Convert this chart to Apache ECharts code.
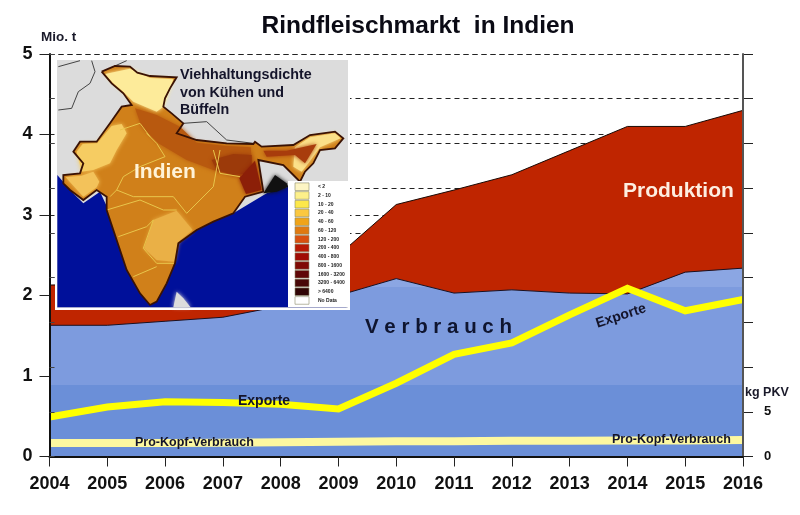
<!DOCTYPE html>
<html>
<head>
<meta charset="utf-8">
<style>
  html, body { margin: 0; padding: 0; background: #fff; }
  #chart { width: 800px; height: 515px; filter: blur(0.4px); }
</style>
<script src="https://cdn.jsdelivr.net/npm/echarts@6/dist/echarts.min.js"></script>
</head>
<body>
<div id="chart"></div>
<script>
const years = ['2004', '2005', '2006', '2007', '2008', '2009', '2010', '2011', '2012', '2013', '2014', '2015', '2016'];
const produktion = [2.13, 2.14, 2.2, 2.28, 2.38, 2.5, 3.13, 3.31, 3.5, 3.8, 4.1, 4.1, 4.3];
const verbrauch = [1.63, 1.63, 1.68, 1.73, 1.87, 2.0, 2.21, 2.03, 2.07, 2.03, 2.02, 2.29, 2.34];
const exporte = [0.49, 0.615, 0.68, 0.67, 0.65, 0.59, 0.91, 1.27, 1.41, 1.76, 2.09, 1.81, 1.95];
const proKopf = [1.5, 1.5, 1.5, 1.55, 1.6, 1.65, 1.7, 1.7, 1.75, 1.75, 1.8, 1.8, 1.85];

const legendLabels = ['< 2', '2 - 10', '10 - 20', '20 - 40', '40 - 60', '60 - 120', '120 - 200', '200 - 400',
  '400 - 800', '800 - 1600', '1600 - 3200', '3200 - 6400', '> 6400', 'No Data'];
const legendColors = ['#fdf5c4', '#fdf08a', '#fde84a', '#fbc840', '#f0a418', '#e07a10', '#d9500f', '#b81a05',
  '#a00c05', '#800a05', '#600808', '#480808', '#300505', '#ffffff'];

const fontName = '"Liberation Sans", Arial, sans-serif';

// Baender im Verbrauch-Bereich, Grenzen in Mio. t
const bandLow = 0.885;
const bandHigh = 2.1;
const vMax = Math.max(...verbrauch);
const verbrauchFill = new echarts.graphic.LinearGradient(0, 0, 0, 1, [
  { offset: 0, color: '#8ba6e3' },
  { offset: 1 - bandHigh / vMax, color: '#8ba6e3' },
  { offset: 1 - bandHigh / vMax, color: '#7d9bde' },
  { offset: 1 - bandLow / vMax, color: '#7d9bde' },
  { offset: 1 - bandLow / vMax, color: '#6b8fd8' },
  { offset: 1, color: '#6b8fd8' },
]);

const txt = (text, x, y, size, fill, extra) => ({
  type: 'text',
  z: 60,
  x, y,
  style: Object.assign({ text, fill, font: `bold ${size}px ${fontName}`, textVerticalAlign: 'middle' }, extra),
});
const poly = (points, fill, extra) => ({
  type: 'polygon',
  z: 52,
  shape: { points: points.map((p) => [p[0] / 3, p[1] / 3]) },
  style: Object.assign({ fill, shadowColor: fill, shadowBlur: 4 }, extra),
});
const border = (points, stroke, lineWidth) => ({
  type: 'polyline',
  z: 54,
  shape: { points: points.map((p) => [p[0] / 3, p[1] / 3]) },
  style: { stroke, lineWidth, fill: 'none' },
});

const indiaOutline = [[305, 215], [345, 198], [390, 200], [412, 218], [450, 228], [530, 232], [510, 265], [495, 295],
  [490, 320], [515, 340], [550, 370], [530, 400], [590, 420], [680, 430], [760, 432], [765, 425], [785, 440], [880, 435],
  [930, 405], [1005, 395], [1030, 415], [1005, 445], [960, 450], [940, 490], [915, 515], [900, 545], [880, 525],
  [850, 495], [775, 480], [790, 575], [735, 590], [700, 640], [640, 665], [590, 690], [535, 730], [525, 790], [500, 850],
  [470, 905], [450, 915], [420, 880], [380, 810], [350, 720], [320, 630], [320, 590], [290, 570], [250, 600], [210, 570],
  [190, 550], [190, 525], [240, 520], [250, 490], [220, 455], [240, 425], [290, 425], [330, 370], [365, 320], [395, 315],
  [370, 280], [335, 250], [305, 215]];

const mapElements = [
  { type: 'rect', z: 50, shape: { x: 56, y: 59, width: 293, height: 250 }, style: { fill: '#dcdcdc', stroke: '#fff', lineWidth: 2 } },
  poly([[172, 525], [215, 575], [250, 610], [300, 575], [330, 640], [700, 640], [800, 580], [865, 560], [1040, 560], [1040, 922], [172, 922]], '#00109a', { shadowBlur: 0 }),
  poly([[520, 922], [530, 875], [550, 895], [572, 922]], '#dcdcdc'),
  poly([[790, 580], [825, 525], [860, 550], [865, 560], [830, 575]], '#111'),
  border([[175, 200], [240, 182]], '#444', 1),
  border([[275, 182], [285, 215], [270, 250], [235, 275], [215, 325], [175, 330]], '#444', 1),
  border([[380, 182], [340, 200]], '#444', 1),
  border([[550, 370], [620, 365], [680, 420], [760, 430]], '#444', 1),
  poly(indiaOutline, '#d0801a', { shadowBlur: 0 }),
  // helle Bereiche im Norden und Westen
  poly([[315, 222], [390, 206], [450, 234], [520, 238], [490, 320], [470, 335], [400, 305], [370, 275], [340, 250]], '#fdeb9a'),
  poly([[230, 455], [248, 432], [292, 430], [335, 378], [365, 372], [380, 400], [350, 450], [330, 490], [280, 510], [245, 515]], '#f6cc62'),
  poly([[197, 532], [245, 527], [280, 515], [298, 545], [290, 562], [250, 590]], '#f3c25a'),
  poly([[885, 442], [930, 412], [1005, 400], [1022, 415], [960, 442], [925, 490], [905, 515], [880, 500]], '#fbe089'),
  poly([[790, 452], [860, 452], [950, 432], [915, 490], [885, 465], [800, 470]], '#a83c0c'),
  // Dichtezentren in der Gangesebene und Bengalen
  poly([[405, 325], [470, 345], [540, 380], [590, 428], [680, 438], [752, 442], [755, 480], [720, 530], [640, 510], [560, 480], [475, 430], [425, 380]], '#b8590f'),
  poly([[635, 480], [700, 462], [755, 465], [755, 520], [700, 525], [650, 510]], '#9c3a0a'),
  poly([[718, 535], [765, 482], [785, 570], [738, 582]], '#8c1f08'),
  // Dekkan
  poly([[460, 660], [530, 632], [578, 690], [535, 725], [522, 785], [470, 780], [432, 745]], '#eab046'),
  // Bundesstaatengrenzen
  border([[330, 590], [350, 570], [370, 530], [420, 500], [495, 470], [470, 430], [440, 400]], '#e8c64c', 1),
  border([[350, 570], [400, 590], [520, 590], [560, 640], [640, 560], [660, 450]], '#e8c64c', 1),
  border([[320, 630], [420, 600], [490, 630], [530, 630]], '#e8c64c', 1),
  border([[355, 710], [440, 680], [460, 660], [430, 745], [470, 790], [525, 790]], '#e8c64c', 1),
  border([[400, 830], [470, 800]], '#e8c64c', 1),
  border([[360, 390], [420, 370], [450, 410]], '#e8c64c', 1),
  border([[640, 450], [660, 520], [720, 530]], '#e8c64c', 1),
  border(indiaOutline, '#3a1204', 1.8),
  // Legende
  { type: 'rect', z: 55, shape: { x: 288, y: 181, width: 60, height: 126 }, style: { fill: '#fff' } },
];

legendLabels.forEach((label, i) => {
  const y = 186.7 + i * 8.75;
  mapElements.push({
    type: 'rect', z: 56,
    shape: { x: 295, y: y - 3.8, width: 14, height: 7.6 },
    style: { fill: legendColors[i], stroke: '#8a8a6a', lineWidth: 0.6 },
  });
  mapElements.push(txt(label, 318, y, 5, '#222'));
});

const labels = [
  txt('Rindfleischmarkt  in Indien', 418, 26, 24.5, '#0a0a14', { textAlign: 'center' }),
  txt('Mio. t', 41, 37, 13.5, '#1a1a2a'),
  txt('Viehhaltungsdichte', 180, 75, 14.3, '#14142a'),
  txt('von Kühen und', 180, 93, 14.3, '#14142a'),
  txt('Büffeln', 180, 110, 14.3, '#14142a'),
  txt('Indien', 134, 172, 21, '#fff3d8'),
  txt('Produktion', 623, 191, 21, '#fdeee0'),
  txt('V e r b r a u c h', 365, 327, 20.5, '#0f1530'),
  txt('Exporte', 238, 401, 14, '#14142a'),
  Object.assign(txt('Exporte', 621, 316, 14, '#14142a', { textAlign: 'center' }), { rotation: 18 * Math.PI / 180 }),
  txt('Pro-Kopf-Verbrauch', 135, 443, 12.5, '#14142a'),
  txt('Pro-Kopf-Verbrauch', 612, 440, 12.5, '#14142a'),
  txt('kg PKV', 745, 393, 12.5, '#1a1a2a'),
];

const chart = echarts.init(document.getElementById('chart'), null, { renderer: 'canvas' });

chart.setOption({
  animation: false,
  backgroundColor: '#fff',
  grid: { left: 49.5, right: 57, top: 54, height: 402.5 },
  xAxis: {
    type: 'category',
    boundaryGap: false,
    data: years,
    axisLine: { lineStyle: { color: '#111', width: 2 } },
    axisTick: { alignWithLabel: true, length: 10, lineStyle: { color: '#222', width: 1 } },
    axisLabel: { interval: 0, margin: 19, color: '#111', fontFamily: fontName, fontWeight: 'bold', fontSize: 18 },
    z: 5,
  },
  yAxis: [
    {
      type: 'value', min: 0, max: 5, interval: 1,
      axisLine: { show: false },
      axisTick: { show: true, length: 10, lineStyle: { color: '#222' } },
      axisLabel: { margin: 17, color: '#111', fontFamily: fontName, fontWeight: 'bold', fontSize: 18 },
      splitLine: { show: true, lineStyle: { color: '#222', type: [5, 4], width: 1 } },
      z: 0,
    },
    {
      type: 'value', min: 0, max: 45, interval: 5, position: 'right',
      axisLine: { show: false },
      axisTick: { show: true, length: 10, lineStyle: { color: '#222' } },
      axisLabel: {
        margin: 21, color: '#111', fontFamily: fontName, fontWeight: 'bold', fontSize: 13,
        formatter: (v) => (v <= 5 ? String(v) : ''),
      },
      splitLine: { show: true, lineStyle: { color: '#222', type: [5, 4], width: 1 } },
      z: 0,
    },
    {
      // Achsenlinie links und kleine Innenstriche, ueber den Flaechen
      type: 'value', min: 0, max: 45, interval: 5, position: 'left',
      axisLine: { show: true, lineStyle: { color: '#111', width: 2 } },
      axisTick: { show: true, inside: true, length: 5, lineStyle: { color: '#444' } },
      axisLabel: { show: false },
      splitLine: { show: false },
      z: 5,
    },
    {
      // Achsenlinie rechts, ueber den Flaechen
      type: 'value', min: 0, max: 45, interval: 5, position: 'right',
      axisLine: { show: true, lineStyle: { color: '#555', width: 2 } },
      axisTick: { show: false },
      axisLabel: { show: false },
      splitLine: { show: false },
      z: 5,
    },
  ],
  series: [
    {
      name: 'Produktion', type: 'line', data: produktion, symbol: 'none', z: 2,
      lineStyle: { color: '#1a0a05', width: 1 },
      areaStyle: { color: '#bf2500', opacity: 1 },
    },
    {
      name: 'Verbrauch', type: 'line', data: verbrauch, symbol: 'none', z: 3,
      lineStyle: { color: '#1a1020', width: 1 },
      areaStyle: { color: verbrauchFill, opacity: 1 },
    },
    {
      name: 'Exporte', type: 'line', data: exporte, symbol: 'none', z: 4, clip: false,
      lineStyle: { color: '#ffff00', width: 7, join: 'miter' },
    },
    {
      name: 'Pro-Kopf-Verbrauch', type: 'line', yAxisIndex: 1, data: proKopf, symbol: 'none', z: 4, clip: false,
      lineStyle: { color: '#fdf8a0', width: 8 },
    },
  ],
  graphic: { elements: mapElements.concat(labels) },
});
</script>
</body>
</html>
